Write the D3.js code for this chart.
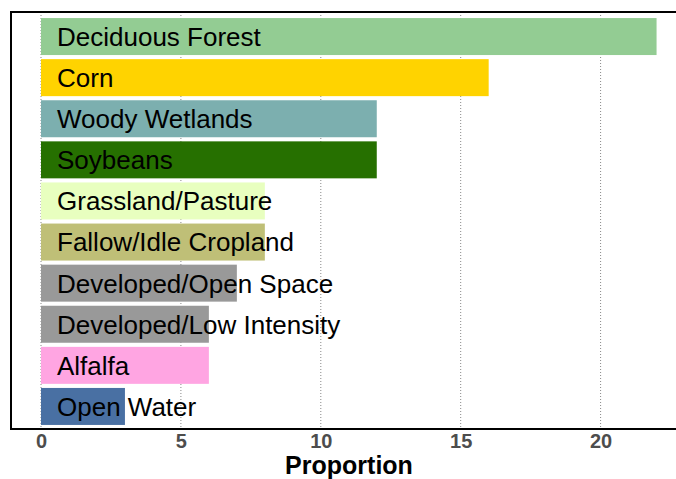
<!DOCTYPE html>
<html><head><meta charset="utf-8">
<script src="https://cdn.jsdelivr.net/npm/d3@7"></script>
<style>html,body{margin:0;padding:0;background:#fff;}svg{display:block;}</style>
</head><body>
<svg id="c" width="676" height="479"></svg>
<script>
const categories = ["Deciduous Forest","Corn","Woody Wetlands","Soybeans","Grassland/Pasture","Fallow/Idle Cropland","Developed/Open Space","Developed/Low Intensity","Alfalfa","Open Water"];
const values = [22,16,12,12,8,8,7,6,6,3];
const colors = ["#93CC93","#FFD300","#7CAFAF","#267000","#E8FFBF","#BFBF77","#999999","#999999","#FFA5E2","#4970A3"];
const tickValues = [0,5,10,15,20];
const xTitle = "Proportion";

const svg = d3.select("#c");
const x = d3.scaleLinear().domain([0,20]).range([41,600.6]);
const y = d3.scaleBand().domain(categories).range([16,427]).paddingInner(0.1).paddingOuter(0.05);

// gridlines
svg.append("g").selectAll("line").data(tickValues).join("line")
  .attr("x1",d=>x(d)).attr("x2",d=>x(d)).attr("y1",12).attr("y2",429)
  .attr("stroke","#888").attr("stroke-width",1).attr("stroke-dasharray","1,2");

// bars
svg.append("g").selectAll("rect").data(categories).join("rect")
  .attr("x",x(0)).attr("y",d=>y(d)).attr("width",(d,i)=>x(values[i])-x(0))
  .attr("height",y.bandwidth()).attr("fill",(d,i)=>colors[i]);

// labels
svg.append("g").selectAll("text").data(categories).join("text")
  .attr("x",57).attr("y",d=>y(d)+y.bandwidth()/2).attr("dy","0.36em")
  .attr("font-family","Liberation Sans, Arial, sans-serif").attr("font-size",26)
  .attr("fill","#000").text(d=>d);

// panel border
svg.append("rect").attr("x",11).attr("y",12).attr("width",666).attr("height",417)
  .attr("fill","none").attr("stroke","#000").attr("stroke-width",2);

// axis
const ax = svg.append("g").attr("transform","translate(0,429)")
  .call(d3.axisBottom(x).tickValues(tickValues).tickSize(0).tickPadding(5));
ax.select(".domain").remove();
ax.selectAll("text").attr("font-family","Liberation Sans, Arial, sans-serif")
  .attr("font-size",20).attr("font-weight","bold").attr("fill","#4D4D4D");

svg.append("text").attr("x",349).attr("y",474).attr("text-anchor","middle")
  .attr("font-family","Liberation Sans, Arial, sans-serif").attr("font-size",25)
  .attr("font-weight","bold").attr("fill","#000").text(xTitle);
</script>
</body></html>
